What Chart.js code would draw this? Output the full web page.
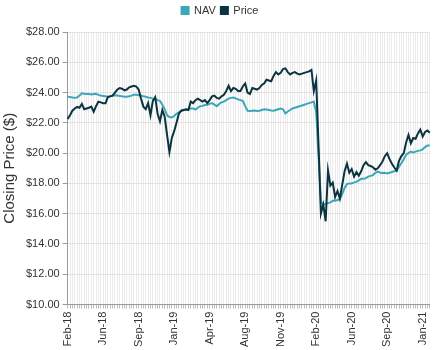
<!doctype html>
<html>
    <head>
        <title>Closing Price: NAV vs Price</title>
        <script src="https://cdn.jsdelivr.net/npm/chart.js"></script>
        <style>
            html, body { margin: 0; padding: 0; background: #fff; }
            #wrap { width: 446px; height: 350px; }
        </style>
    </head>
    <body>
        <div id="wrap"><canvas id="priceChart"></canvas></div>
        <script>
            // weekly closes, first week Feb-18; a tick label every 15 weeks
            const tickLabels = [
                "Feb-18", "Jun-18", "Sep-18", "Jan-19", "Apr-19", "Aug-19",
                "Nov-19", "Feb-20", "Jun-20", "Sep-20", "Jan-21",
            ];
            const labelEvery = 15;

            const nav = [
                23.73, 23.7, 23.68, 23.65, 23.67, 23.8, 23.95, 23.92, 23.9, 23.9,
                23.88, 23.9, 23.92, 23.85, 23.8, 23.78, 23.75, 23.73, 23.75, 23.8,
                23.82, 23.8, 23.78, 23.75, 23.73, 23.72, 23.75, 23.8, 23.85, 23.85,
                23.83, 23.8, 23.75, 23.72, 23.68, 23.65, 23.6, 23.58, 23.5, 23.45,
                23.2, 22.9, 22.5, 22.38, 22.35, 22.45, 22.6, 22.7, 22.8, 22.85,
                22.85, 22.9, 22.95, 22.95, 22.88, 23.0, 23.1, 23.12, 23.18, 23.2,
                23.25, 23.3, 23.2, 23.1, 23.25, 23.35, 23.4, 23.5, 23.6, 23.65,
                23.67, 23.62, 23.55, 23.5, 23.45, 23.1, 22.8, 22.78, 22.8, 22.82,
                22.78, 22.8, 22.85, 22.9, 22.88, 22.85, 22.82, 22.8, 22.85, 22.9,
                22.95, 22.9, 22.62, 22.75, 22.85, 22.95, 23.0, 23.05, 23.1, 23.15,
                23.2, 23.25, 23.3, 23.35, 23.4, 22.7, 19.8, 16.8, 16.6, 16.65,
                16.7, 16.75, 16.85, 16.85, 16.9, 16.95, 17.3, 17.7, 17.95, 18.0,
                18.0, 18.07, 18.1, 18.2, 18.3, 18.3, 18.35, 18.45, 18.5, 18.55,
                18.7, 18.78, 18.72, 18.68, 18.7, 18.65, 18.7, 18.75, 18.8, 18.85,
                19.1, 19.35, 19.6, 19.9, 20.0, 20.1, 20.05, 20.1, 20.15, 20.18,
                20.25, 20.4, 20.5, 20.5,
            ];

            const price = [
                22.25, 22.5, 22.8, 22.95, 23.05, 23.0, 23.25, 22.9, 22.95, 23.0,
                23.07, 22.73, 23.1, 23.4, 23.35, 23.3, 23.3, 23.7, 23.75, 23.8,
                24.0, 24.2, 24.3, 24.25, 24.15, 24.2, 24.35, 24.4, 24.45, 24.4,
                24.2, 23.6, 23.07, 22.9, 23.3, 22.5, 23.45, 23.7, 22.6, 22.1,
                22.85, 22.4, 21.2, 20.07, 21.0, 21.45, 22.0, 22.6, 22.8, 22.85,
                22.9, 22.85, 23.4, 23.3, 23.5, 23.6, 23.5, 23.4, 23.5, 23.3,
                23.5, 23.75, 23.8, 23.65, 23.6, 23.75, 23.85, 24.1, 24.45, 24.1,
                24.3, 24.25, 24.1, 24.1, 24.4, 24.6, 24.0, 23.9, 24.3, 24.25,
                24.2, 24.3, 24.5, 24.6, 24.85, 24.8, 24.75, 25.1, 25.35, 25.2,
                25.3, 25.55, 25.6, 25.35, 25.2, 25.3, 25.35, 25.25, 25.2, 25.25,
                25.3, 25.35, 25.4, 25.5, 24.1, 24.8, 20.5, 16.0, 16.6, 15.5,
                18.85, 17.85, 18.05, 17.1, 17.5, 17.0, 17.9, 18.8, 19.3, 18.7,
                18.95, 18.45, 18.75, 18.5, 18.8, 19.2, 19.4, 19.2, 19.15, 19.07,
                18.9, 19.0, 19.2, 19.45, 19.8, 20.0, 19.6, 19.3, 19.05, 18.85,
                19.5, 19.8, 20.0, 20.7, 21.2, 20.65, 21.0, 20.95, 21.3, 21.55,
                21.1, 21.4, 21.5, 21.35,
            ];

            const weeks = nav.map((v, i) =>
                i % labelEvery === 0 ? tickLabels[i / labelEvery] : "",
            );

            Chart.defaults.font.family = "'Liberation Sans', Arial, sans-serif";
            Chart.defaults.font.size = 11;
            Chart.defaults.color = "#333";

            // extra room under the legend, and nudge it a little to the left
            const legendGap = {
                id: "legendGap",
                beforeInit(chart) {
                    const fit = chart.legend.fit;
                    chart.legend.fit = function () {
                        fit.bind(chart.legend)();
                        this.height += 6;
                    };
                },
                afterUpdate(chart) {
                    chart.legend.left -= 14;
                },
            };

            const ctx = document.getElementById("priceChart").getContext("2d");
            const chart = new Chart(ctx, {
                type: "line",
                data: {
                    labels: weeks,
                    datasets: [
                        {
                            label: "NAV",
                            data: nav,
                            borderColor: "#3ba7b8",
                            backgroundColor: "#3ba7b8",
                            borderWidth: 2,
                            pointRadius: 0,
                            tension: 0,
                            order: 1,
                        },
                        {
                            label: "Price",
                            data: price,
                            borderColor: "#0b3440",
                            backgroundColor: "#0b3440",
                            borderWidth: 2,
                            pointRadius: 0,
                            tension: 0,
                            order: 0,
                        },
                    ],
                },
                plugins: [legendGap],
                options: {
                    responsive: true,
                    maintainAspectRatio: false,
                    animation: false,
                    layout: { padding: { right: -7, left: 1, bottom: 0 } },
                    plugins: {
                        tooltip: { enabled: false },
                        legend: {
                            position: "top",
                            labels: {
                                boxWidth: 7,
                                boxHeight: 7,
                                padding: 5,
                                sort: (a, b) => a.datasetIndex - b.datasetIndex,
                            },
                        },
                    },
                    scales: {
                        x: {
                            offset: false,
                            grid: {
                                color: "#ebebeb",
                                tickLength: 4,
                                tickColor: "#bdbdbd",
                            },
                            border: { color: "#9a9a9a" },
                            ticks: {
                                autoSkip: false,
                                maxRotation: 90,
                                minRotation: 90,
                                padding: 3,
                                callback: function (value, index) {
                                    return index % labelEvery === 0
                                        ? tickLabels[index / labelEvery]
                                        : "";
                                },
                            },
                        },
                        y: {
                            min: 10,
                            max: 28,
                            grid: {
                                color: "#e2e2e2",
                                tickLength: 5,
                                tickColor: "#9a9a9a",
                            },
                            border: { color: "#9a9a9a" },
                            ticks: {
                                stepSize: 2,
                                padding: 3,
                                callback: (v) => "$" + v.toFixed(2),
                            },
                            title: {
                                display: true,
                                text: "Closing Price ($)",
                                font: { size: 15 },
                                color: "#333",
                                padding: { top: 0, bottom: 4 },
                            },
                        },
                    },
                },
            });
        </script>
    </body>
</html>
